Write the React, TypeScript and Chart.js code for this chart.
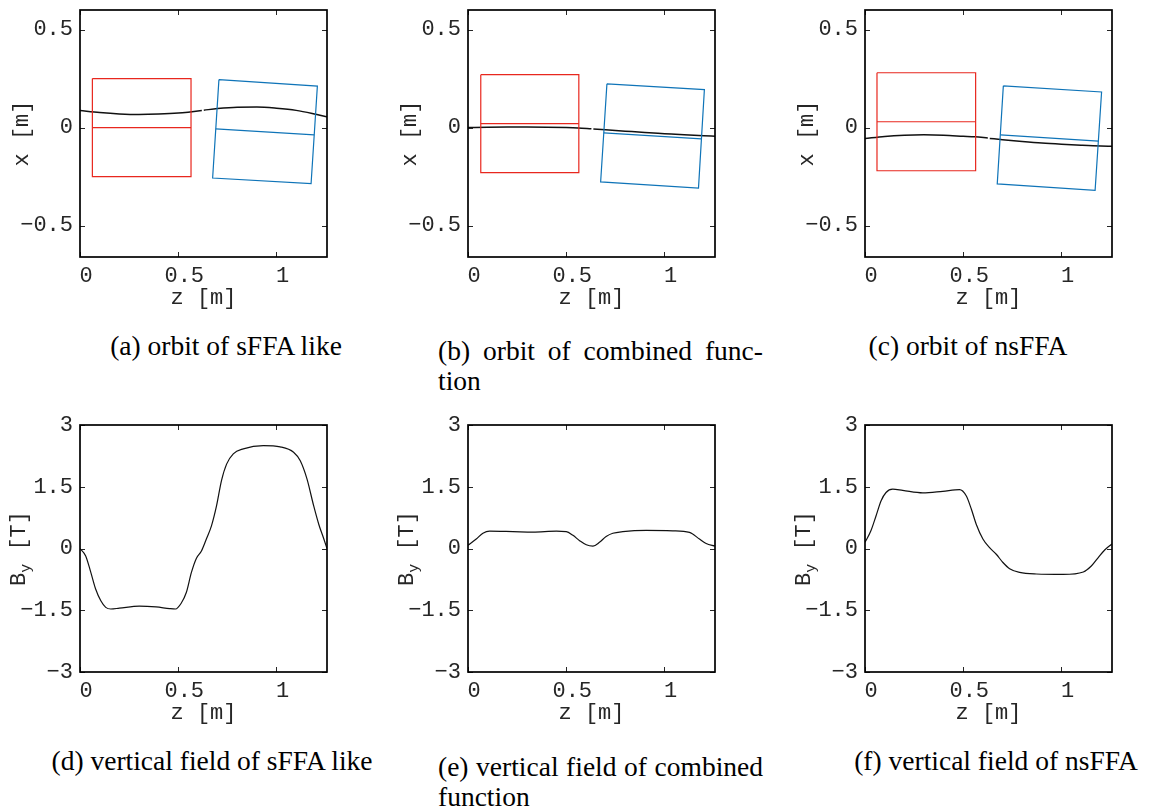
import React, { useEffect, useRef } from 'react';
import { Chart, registerables } from 'chart.js';

Chart.register(...registerables);

// ---------- axes ----------
const zTicks = [0, 0.5, 1];
const zTickLabels = ['0', '0.5', '1'];
const orbitTicks = [-0.5, 0, 0.5];
const orbitTickLabels = ['\u22120.5', '0', '0.5'];
const fieldTicks = [-3, -1.5, 0, 1.5, 3];
const fieldTickLabels = ['\u22123', '\u22121.5', '0', '1.5', '3'];

// ---------- orbits (z [m], x [m]) ----------
const orbitZA = [0, 0.1, 0.2, 0.3, 0.4, 0.5, 0.56, 0.62, 0.625, 0.63, 0.7, 0.8, 0.9, 1.0, 1.1, 1.2, 1.257];
const orbitXA = [0.087, 0.077, 0.070, 0.067, 0.069, 0.074, 0.080, 0.087, null, 0.089, 0.097, 0.104, 0.105, 0.099, 0.088, 0.068, 0.055];
const orbitZB = [0, 0.1, 0.2, 0.3, 0.4, 0.5, 0.56, 0.628, 0.633, 0.638, 0.7, 0.8, 0.9, 1.0, 1.1, 1.2, 1.257];
const orbitXB = [0, 0.002, 0.003, 0.003, 0.002, 0.0, -0.002, -0.006, null, -0.007, -0.011, -0.018, -0.025, -0.031, -0.037, -0.042, -0.044];
const orbitZC = [0, 0.1, 0.2, 0.3, 0.4, 0.5, 0.56, 0.625, 0.63, 0.635, 0.7, 0.8, 0.9, 1.0, 1.1, 1.2, 1.257];
const orbitXC = [-0.056, -0.045, -0.039, -0.037, -0.039, -0.044, -0.047, -0.053, null, -0.055, -0.062, -0.071, -0.079, -0.085, -0.090, -0.094, -0.095];

// ---------- magnets: F (red) and D (blue) outlines and mid lines ----------
const fMagZA = [0.063, 0.565, 0.565, 0.063, 0.063];
const fMagXA = [0.25, 0.25, -0.25, -0.25, 0.25];
const fMidZA = [0.063, 0.565];
const fMidXA = [0, 0];
const dMagZA = [0.707, 1.208, 1.176, 0.675, 0.707];
const dMagXA = [0.245, 0.212, -0.286, -0.257, 0.245];
const dMidZA = [0.691, 1.192];
const dMidXA = [-0.006, -0.037];

const fMagZB = [0.065, 0.564, 0.564, 0.065, 0.065];
const fMagXB = [0.27, 0.27, -0.23, -0.23, 0.27];
const fMidZB = [0.065, 0.564];
const fMidXB = [0.02, 0.02];
const dMagZB = [0.707, 1.203, 1.173, 0.675, 0.707];
const dMagXB = [0.223, 0.194, -0.308, -0.277, 0.223];
const dMidZB = [0.691, 1.188];
const dMidXB = [-0.027, -0.057];

const fMagZC = [0.061, 0.563, 0.563, 0.061, 0.061];
const fMagXC = [0.28, 0.28, -0.22, -0.22, 0.28];
const fMidZC = [0.061, 0.563];
const fMidXC = [0.03, 0.03];
const dMagZC = [0.704, 1.204, 1.171, 0.673, 0.704];
const dMagXC = [0.213, 0.182, -0.320, -0.287, 0.213];
const dMidZC = [0.689, 1.188];
const dMidXC = [-0.037, -0.069];

// ---------- vertical fields (z [m], By [T]) ----------
const fieldZD = [0, 0.029, 0.055, 0.08, 0.106, 0.131, 0.157, 0.2, 0.302, 0.387, 0.456, 0.486, 0.515, 0.541, 0.567, 0.592, 0.618, 0.643, 0.669, 0.695, 0.72, 0.746, 0.78, 0.831, 0.933, 1.019, 1.087, 1.121, 1.155, 1.189, 1.215, 1.241, 1.257];
const fieldBD = [0, -0.18, -0.58, -0.99, -1.27, -1.43, -1.47, -1.45, -1.40, -1.42, -1.46, -1.47, -1.33, -1.07, -0.58, -0.24, -0.06, 0.23, 0.55, 1.04, 1.65, 2.05, 2.30, 2.42, 2.50, 2.47, 2.34, 2.13, 1.69, 1.04, 0.59, 0.23, 0];
const fieldZE = [0, 0.042, 0.076, 0.11, 0.229, 0.33, 0.45, 0.5, 0.534, 0.568, 0.602, 0.636, 0.669, 0.703, 0.737, 0.788, 0.907, 1.042, 1.127, 1.178, 1.212, 1.257];
const fieldBE = [0.08, 0.23, 0.37, 0.42, 0.41, 0.40, 0.42, 0.41, 0.32, 0.19, 0.09, 0.06, 0.15, 0.29, 0.37, 0.41, 0.44, 0.43, 0.39, 0.23, 0.12, 0.06];
const fieldZF = [0, 0.03, 0.056, 0.082, 0.107, 0.141, 0.192, 0.294, 0.396, 0.481, 0.515, 0.541, 0.566, 0.6, 0.634, 0.668, 0.702, 0.736, 0.787, 0.872, 1.009, 1.111, 1.153, 1.187, 1.221, 1.257];
const fieldBF = [0.15, 0.43, 0.79, 1.16, 1.36, 1.44, 1.41, 1.35, 1.39, 1.43, 1.28, 0.96, 0.59, 0.23, 0.02, -0.14, -0.34, -0.49, -0.58, -0.62, -0.63, -0.57, -0.42, -0.22, -0.03, 0.11];

// ---------- styling ----------
const RED = '#e8271e';
const BLUE = '#0f74b8';
const AXIS_COLOR = '#262626';
const MONO = '"Liberation Mono", "DejaVu Sans Mono", monospace';
const SERIF = '"Liberation Serif", "DejaVu Serif", serif';
const PLOT = 247;
const PAD_TOP = 22;
const PAD_RIGHT = 12;
const Y_AXIS_W = 80;
const X_AXIS_H = 66;

const zip = (xs: number[], ys: (number | null)[]) => xs.map((x, i) => ({ x, y: ys[i] }));

const framePlugin = {
  id: 'frame',
  afterDatasetsDraw(chart: any, _args: any, opts: any) {
    const { ctx, chartArea: a, scales } = chart;
    ctx.save();
    // inward ticks on all four sides
    ctx.strokeStyle = AXIS_COLOR;
    ctx.lineWidth = 1;
    const L = 5;
    ctx.beginPath();
    for (const t of scales.x.ticks) {
      const px = Math.round(scales.x.getPixelForValue(t.value)) + 0.5;
      ctx.moveTo(px, a.bottom); ctx.lineTo(px, a.bottom - L);
      ctx.moveTo(px, a.top); ctx.lineTo(px, a.top + L);
    }
    for (const t of scales.y.ticks) {
      const py = Math.round(scales.y.getPixelForValue(t.value)) + 0.5;
      ctx.moveTo(a.left, py); ctx.lineTo(a.left + L, py);
      ctx.moveTo(a.right, py); ctx.lineTo(a.right - L, py);
    }
    ctx.stroke();
    // box
    ctx.strokeStyle = '#000';
    ctx.lineWidth = 1.7;
    ctx.strokeRect(a.left, a.top, a.right - a.left, a.bottom - a.top);

    // x title
    ctx.fillStyle = AXIS_COLOR;
    ctx.font = `22px ${MONO}`;
    ctx.textAlign = 'center';
    ctx.textBaseline = 'middle';
    ctx.fillText('z [m]', (a.left + a.right) / 2, a.bottom + 41);

    // y title (rotated)
    const cy = (a.top + a.bottom) / 2;
    if (opts.sub) {
      ctx.translate(a.left - 61, cy);
      ctx.rotate(-Math.PI / 2);
      ctx.textAlign = 'left';
      const fMain = `22px ${MONO}`;
      const fSub = `15px ${MONO}`;
      ctx.font = fMain;
      const wMain = ctx.measureText(opts.main).width;
      const wRest = ctx.measureText(opts.rest).width;
      ctx.font = fSub;
      const wSub = ctx.measureText(opts.sub).width;
      const x0 = -(wMain + wSub + wRest) / 2;
      ctx.font = fMain;
      ctx.fillText(opts.main, x0, 0);
      ctx.font = fSub;
      ctx.fillText(opts.sub, x0 + wMain, 7);
      ctx.font = fMain;
      ctx.fillText(opts.rest, x0 + wMain + wSub, 0);
    } else {
      ctx.translate(a.left - 58, cy);
      ctx.rotate(-Math.PI / 2);
      ctx.fillText(opts.main, 0, 0);
    }
    ctx.restore();
  },
};

type PanelProps = {
  left: number;
  top: number;
  datasets: any[];
  yMin: number;
  yMax: number;
  yTicks: number[];
  yLabels: string[];
  title: { main: string; sub?: string; rest?: string };
};

function Panel({ left, top, datasets, yMin, yMax, yTicks, yLabels, title }: PanelProps) {
  const ref = useRef<HTMLCanvasElement | null>(null);
  const W = Y_AXIS_W + PLOT + PAD_RIGHT;
  const H = PAD_TOP + PLOT + X_AXIS_H;
  useEffect(() => {
    if (!ref.current) return;
    const tickFont = { family: MONO, size: 22 };
    const chart = new Chart(ref.current, {
      type: 'scatter',
      data: { datasets },
      options: {
        animation: false,
        responsive: false,
        events: [],
        layout: { padding: { top: PAD_TOP, right: PAD_RIGHT, left: 0, bottom: 0 } },
        plugins: {
          legend: { display: false },
          tooltip: { enabled: false },
          frame: title,
        } as any,
        scales: {
          x: {
            type: 'linear',
            min: 0,
            max: 1.257,
            afterBuildTicks: (s: any) => { s.ticks = zTicks.map((v) => ({ value: v })); },
            afterFit: (s: any) => { s.height = X_AXIS_H; },
            grid: { display: false, drawTicks: false },
            border: { display: false },
            ticks: {
              font: tickFont,
              color: AXIS_COLOR,
              padding: 6,
              labelOffset: 6,
              maxRotation: 0,
              autoSkip: false,
              callback: (_v: any, i: number) => zTickLabels[i],
            },
          },
          y: {
            type: 'linear',
            min: yMin,
            max: yMax,
            afterBuildTicks: (s: any) => { s.ticks = yTicks.map((v) => ({ value: v })); },
            afterFit: (s: any) => { s.width = Y_AXIS_W; },
            grid: { display: false, drawTicks: false },
            border: { display: false },
            ticks: {
              font: tickFont,
              color: AXIS_COLOR,
              padding: 7,
              autoSkip: false,
              callback: (_v: any, i: number) => yLabels[i],
            },
          },
        },
      },
      plugins: [framePlugin],
    });
    return () => chart.destroy();
  }, []);
  return (
    <canvas
      ref={ref}
      width={W}
      height={H}
      style={{ position: 'absolute', left: left - Y_AXIS_W, top: top - PAD_TOP, width: W, height: H }}
    />
  );
}

const lineDs = (xs: number[], ys: (number | null)[], color: string, width: number, smooth = false) => ({
  data: zip(xs, ys),
  showLine: true,
  borderColor: color,
  backgroundColor: color,
  borderWidth: width,
  pointRadius: 0,
  fill: false,
  spanGaps: false,
  tension: 0,
  cubicInterpolationMode: smooth ? 'monotone' : 'default',
});

const orbitSets = (
  fz: number[], fx: number[], fmz: number[], fmx: number[],
  dz: number[], dx: number[], dmz: number[], dmx: number[],
  oz: number[], ox: (number | null)[]
) => [
  lineDs(fz, fx, RED, 1.2),
  lineDs(fmz, fmx, RED, 1.2),
  lineDs(dz, dx, BLUE, 1.2),
  lineDs(dmz, dmx, BLUE, 1.2),
  lineDs(oz, ox, '#111', 1.5, true),
];

const captionStyle: React.CSSProperties = {
  position: 'absolute',
  fontFamily: SERIF,
  fontSize: 27.5,
  lineHeight: '30px',
  color: '#000',
  whiteSpace: 'nowrap',
};

function Centered({ cx, cy, text }: { cx: number; cy: number; text: string }) {
  return (
    <div style={{ ...captionStyle, left: cx - 250, width: 500, top: cy - 15, textAlign: 'center' }}>{text}</div>
  );
}

function Justified({ left, cy, width, text }: { left: number; cy: number; width: number; text: string }) {
  return (
    <div style={{ ...captionStyle, left, width, top: cy - 15, textAlign: 'justify', textAlignLast: 'justify' as any }}>{text}</div>
  );
}

function Plain({ left, cy, text }: { left: number; cy: number; text: string }) {
  return <div style={{ ...captionStyle, left, top: cy - 15 }}>{text}</div>;
}

export default function App() {
  const lefts = [80, 468, 865];
  const topRow = 10;
  const botRow = 425;
  const orbitTitle = { main: 'x [m]' };
  const fieldTitle = { main: 'B', sub: 'y', rest: ' [T]' };
  return (
    <div style={{ position: 'absolute', left: 0, top: 0, width: 1149, height: 810, background: '#fff', overflow: 'hidden' }}>
      <Panel left={lefts[0]} top={topRow} yMin={-0.66} yMax={0.6} yTicks={orbitTicks} yLabels={orbitTickLabels} title={orbitTitle}
        datasets={orbitSets(fMagZA, fMagXA, fMidZA, fMidXA, dMagZA, dMagXA, dMidZA, dMidXA, orbitZA, orbitXA)} />
      <Panel left={lefts[1]} top={topRow} yMin={-0.66} yMax={0.6} yTicks={orbitTicks} yLabels={orbitTickLabels} title={orbitTitle}
        datasets={orbitSets(fMagZB, fMagXB, fMidZB, fMidXB, dMagZB, dMagXB, dMidZB, dMidXB, orbitZB, orbitXB)} />
      <Panel left={lefts[2]} top={topRow} yMin={-0.66} yMax={0.6} yTicks={orbitTicks} yLabels={orbitTickLabels} title={orbitTitle}
        datasets={orbitSets(fMagZC, fMagXC, fMidZC, fMidXC, dMagZC, dMagXC, dMidZC, dMidXC, orbitZC, orbitXC)} />
      <Panel left={lefts[0]} top={botRow} yMin={-3} yMax={3} yTicks={fieldTicks} yLabels={fieldTickLabels} title={fieldTitle}
        datasets={[lineDs(fieldZD, fieldBD, '#111', 1.2, true)]} />
      <Panel left={lefts[1]} top={botRow} yMin={-3} yMax={3} yTicks={fieldTicks} yLabels={fieldTickLabels} title={fieldTitle}
        datasets={[lineDs(fieldZE, fieldBE, '#111', 1.2, true)]} />
      <Panel left={lefts[2]} top={botRow} yMin={-3} yMax={3} yTicks={fieldTicks} yLabels={fieldTickLabels} title={fieldTitle}
        datasets={[lineDs(fieldZF, fieldBF, '#111', 1.2, true)]} />

      <Centered cx={226} cy={346} text="(a) orbit of sFFA like" />
      <Justified left={438} cy={351} width={325} text="(b) orbit of combined func-" />
      <Plain left={438} cy={381} text="tion" />
      <Centered cx={968} cy={346} text="(c) orbit of nsFFA" />

      <Centered cx={212} cy={761} text="(d) vertical field of sFFA like" />
      <Justified left={438} cy={767} width={325} text="(e) vertical field of combined" />
      <Plain left={438} cy={797} text="function" />
      <Centered cx={996} cy={761} text="(f) vertical field of nsFFA" />
    </div>
  );
}
